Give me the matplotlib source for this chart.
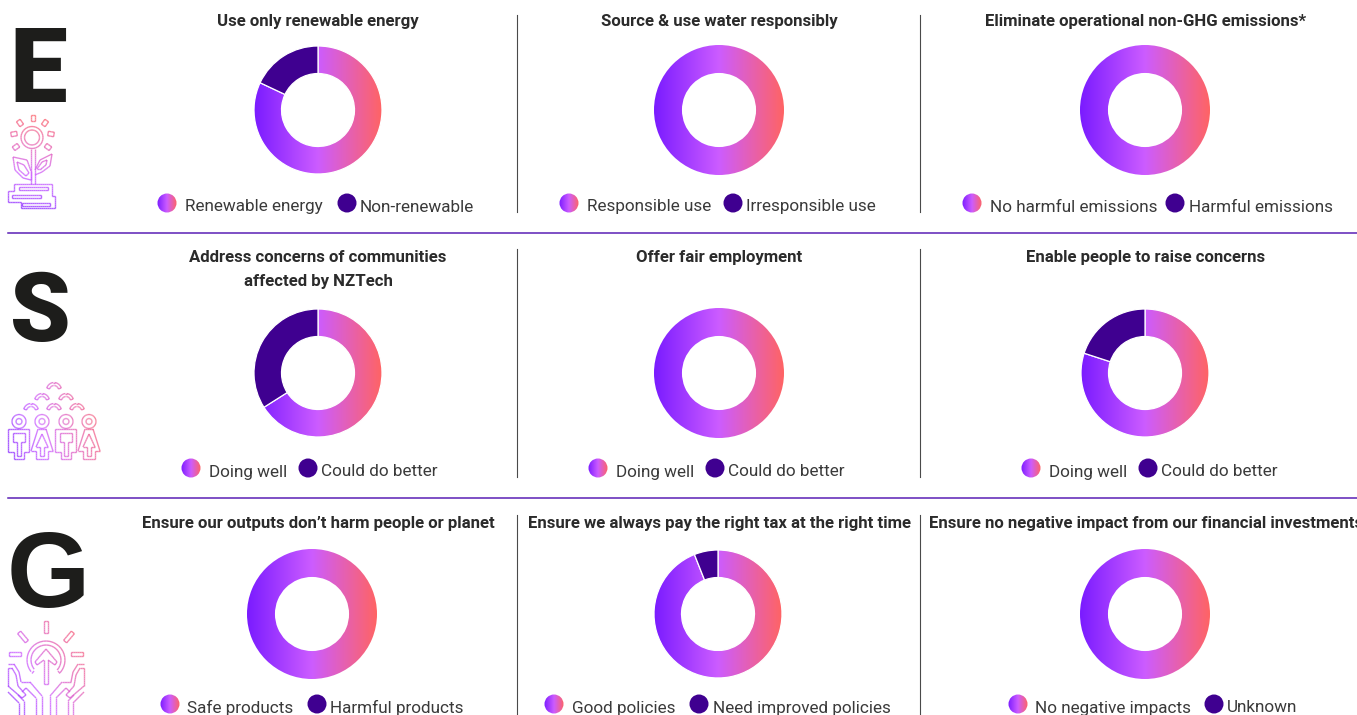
#!/usr/bin/env python3
"""ESG donut grid: three rows of three gradient donuts with icons."""
import numpy as np
import matplotlib; matplotlib.use('Agg')
import matplotlib.pyplot as plt
from matplotlib.colors import LinearSegmentedColormap
from matplotlib.collections import LineCollection
from matplotlib.patches import Circle

W, H = 1357, 715
DARK = '#3f0090'
INK = '#2b2b2b'
GRAD = LinearSegmentedColormap.from_list('esg', ['#7a1bff', '#cc5cff', '#ff6464'])

row_letters = ['E', 'S', 'G']
titles = [
    ['Use only renewable energy', 'Source & use water responsibly', 'Eliminate operational non-GHG emissions*'],
    ['Address concerns of communities\naffected by NZTech', 'Offer fair employment', 'Enable people to raise concerns'],
    ["Ensure our outputs don’t harm people or planet", 'Ensure we always pay the right tax at the right time',
     'Ensure no negative impact from our financial investments'],
]
good_labels = [
    ['Renewable energy', 'Responsible use', 'No harmful emissions'],
    ['Doing well', 'Doing well', 'Doing well'],
    ['Safe products', 'Good policies', 'No negative impacts'],
]
bad_labels = [
    ['Non-renewable', 'Irresponsible use', 'Harmful emissions'],
    ['Could do better', 'Could do better', 'Could do better'],
    ['Harmful products', 'Need improved policies', 'Unknown'],
]
good_share = [[82, 100, 100], [66, 100, 80], [100, 94, 100]]
bad_share = [[18, 0, 0], [34, 0, 20], [0, 6, 0]]

# layout, in pixels of the 1357x715 picture
centers = [[(318, 110), (719, 110), (1145, 110)],
           [(318, 373), (719, 373), (1145, 373)],
           [(312, 614), (718, 614), (1145, 614)]]
radii = [[64, 65, 65], [64, 65, 64], [65, 64, 65]]
title_x = [318, 719, 1146]
title_y = [26, 262, 528]
legend_y = [203, 468, 704]
legend_x = [[(167, 185, 347, 360), (569, 587, 733, 746), (972, 990, 1175, 1189)],
            [(191, 209, 308, 321), (598, 616, 715, 728), (1031, 1049, 1148, 1161)],
            [(170, 187, 317, 330), (554, 572, 699, 713), (1018, 1035, 1214, 1227)]]
letter_y = [102, 341, 607]
letter_x = [9, 10, 7]
letter_size = [74, 70, 77]
letter_font = ['Roboto', 'Roboto', 'Liberation Sans']

plt.rcParams['font.family'] = ['Roboto', 'DejaVu Sans']
fig = plt.figure(figsize=(W/100, H/100), dpi=100)
bg = fig.add_axes([0, 0, 1, 1])
bg.set_xlim(0, W); bg.set_ylim(H, 0); bg.axis('off')
bg.set_aspect('auto')
ramp = np.linspace(0, 1, 256).reshape(1, -1)


def donut(cx, cy, r, good, bad):
    ax = fig.add_axes([(cx-r)/W, 1-(cy+r)/H, 2*r/W, 2*r/H])
    wedges, _ = ax.pie([good, bad], startangle=90, counterclock=False, radius=1,
                       colors=['none', DARK],
                       wedgeprops=dict(width=0.43, edgecolor='white' if bad else 'none', linewidth=0.9))
    im = ax.imshow(ramp, cmap=GRAD, extent=(-1, 1, -1, 1), aspect='auto', zorder=0)
    im.set_clip_path(wedges[0])
    ax.set_xlim(-1, 1); ax.set_ylim(-1, 1)
    ax.axis('off')


def legend_dot(x, y):
    im = bg.imshow(ramp, cmap=GRAD, extent=(x-10, x+10, y+10, y-10), aspect='auto', zorder=2)
    c = Circle((x, y), 9.5, transform=bg.transData, fc='none', ec='none')
    bg.add_patch(c)
    im.set_clip_path(c)


def icon(lines, x0, x1, y0, y1, lean=0.5):
    # stroke colour follows the same ramp, running towards the top right
    segs, cols = [], []
    for ln in lines:
        ln = np.asarray(ln, float)
        for a, b in zip(ln[:-1], ln[1:]):
            n = max(int(np.hypot(*(b-a))/2), 1)
            for i in range(n):
                p = a+(b-a)*i/n; q = a+(b-a)*(i+1)/n
                m = (p+q)/2
                t = (1-lean)*(m[0]-x0)/(x1-x0)+lean*(y1-m[1])/(y1-y0)
                segs.append([p, q]); cols.append(GRAD(np.clip(t, 0, 1)**0.7))
    bg.add_collection(LineCollection(segs, colors=cols, linewidths=1.0, alpha=0.75, zorder=3))


def ring(cx, cy, r, a0=0, a1=360):
    a = np.radians(np.arange(a0, a1+1, 10))
    return np.c_[cx+r*np.cos(a), cy-r*np.sin(a)]


def rect(cx, cy, w, h, ang=0):
    p = np.array([[-w/2, -h/2], [w/2, -h/2], [w/2, h/2], [-w/2, h/2], [-w/2, -h/2]])
    a = np.radians(ang)
    rot = np.array([[np.cos(a), -np.sin(a)], [np.sin(a), np.cos(a)]])
    return p@rot.T+[cx, cy]


def flower_icon():
    L = [ring(32, 137.5, 11), ring(32, 137.5, 7.5)]
    for cx, cy, ang in [(33, 118, 0), (20, 123, -35), (45, 123, 35), (14, 134, 80), (51, 134, -80),
                        (16, 147, 55), (48, 147, -55)]:
        L.append(rect(cx, cy, 4.5, 6, ang))
    L += [[(31, 149), (31, 184)], [(35, 149), (35, 184)]]
    L += [[(31, 171), (27, 160), (13, 157), (15, 170), (23, 178), (31, 180), (31, 171)],
          [(29, 173), (24, 165), (17, 162), (19, 170), (26, 176), (29, 173)],
          [(35, 170), (40, 160), (52, 154), (50, 166), (42, 172), (35, 175)],
          [(37, 169), (42, 162), (47, 160), (46, 165), (41, 169), (37, 169)]]
    L += [[(14, 184), (52, 184), (52, 196), (55, 196), (55, 208), (21, 208), (21, 202), (8, 202),
           (8, 191), (14, 191), (14, 184)],
          rect(33, 188.5, 29, 3), rect(26, 196.5, 29, 3), rect(36, 204, 28, 3)]
    icon(L, 8, 55, 115, 208, lean=0.92)


def people_icon():
    L = []
    for cx, cy in [(54, 387), (42, 398), (66, 398), (31, 408), (54, 408), (77, 408)]:
        L += [ring(cx, cy+3, 7.5, 15, 165), ring(cx, cy+3, 4.5, 15, 165),
              [(cx-7.2, cy+1), (cx-4.3, cy+2)], [(cx+7.2, cy+1), (cx+4.3, cy+2)]]
    for i, cx in enumerate([19, 42, 66, 89]):
        L += [ring(cx, 421.5, 7), ring(cx, 421.5, 3)]
        if i % 2 == 0:
            L += [[(cx-11, 429), (cx+10, 429), (cx+10, 452), (cx+5, 452), (cx+5, 459), (cx-5, 459),
                   (cx-5, 452), (cx-11, 452), (cx-11, 429)],
                  [(cx-6, 433), (cx+6, 433), (cx+6, 442), (cx+2, 442), (cx+2, 456), (cx-2, 456),
                   (cx-2, 442), (cx-6, 442), (cx-6, 433)]]
        else:
            L += [[(cx-4, 429), (cx+4, 429), (cx+11, 451), (cx+6, 451), (cx+6, 459), (cx-6, 459),
                   (cx-6, 451), (cx-11, 451), (cx-4, 429)],
                  [(cx, 434), (cx+6, 447), (cx+2, 447), (cx+2, 456), (cx-2, 456), (cx-2, 447),
                   (cx-6, 447), (cx, 434)]]
    icon(L, 8, 100, 382, 460, lean=0.2)


def hands_icon():
    L = [rect(46, 627, 4, 12), rect(23, 637, 4, 12, -40), rect(69, 637, 4, 12, 40),
         rect(15, 654, 12, 4), rect(77, 654, 12, 4),
         ring(46, 660, 19, -42, 222), ring(46, 660, 15, -42, 222),
         [(32, 673.5), (34, 671)], [(60, 673.5), (58, 671)],
         [(44, 684), (44, 660), (37, 665), (35, 662), (46, 649), (57, 662), (55, 665),
          (48, 660), (48, 684), (44, 684)]]
    left = [[(8, 664), (14, 664), (19, 672), (21, 682), (30, 682), (42, 696), (42, 715)],
            [(36, 715), (36, 698), (26, 688), (22, 692)],
            [(8, 668), (12, 668), (16, 675), (18, 686), (26, 695), (22, 698), (8, 686), (8, 668)],
            [(19, 715), (19, 703), (8, 692)], [(24, 715), (24, 701), (18, 695)]]
    L += left
    L += [[(92-x, y) for x, y in ln] for ln in left]
    icon(L, 8, 84, 620, 715, lean=0.45)


for i in range(3):
    bg.text(letter_x[i], letter_y[i], row_letters[i], fontsize=letter_size[i], fontweight='black' if i < 2 else 'bold',
            color='#1d1d1b', ha='left', va='baseline', family=[letter_font[i], 'DejaVu Sans'])
    for j in range(3):
        cx, cy = centers[i][j]
        donut(cx, cy, radii[i][j], good_share[i][j], bad_share[i][j])
        for k, line in enumerate(titles[i][j].split('\n')):
            bg.text(title_x[j], title_y[i]+24*k, line, fontsize=12.1, fontweight='bold', color=INK,
                    ha='center', va='baseline', clip_on=False)
        gx, gt, bx, bt = legend_x[i][j]
        ly = legend_y[i]
        legend_dot(gx, ly)
        bg.add_patch(Circle((bx, ly), 9.5, fc=DARK, ec='none', zorder=2))
        bg.text(gt, ly+8.5, good_labels[i][j], fontsize=12.3, color='#3a3a3a', va='baseline')
        bg.text(bt, ly+8.5, bad_labels[i][j], fontsize=12.3, color='#3a3a3a', va='baseline')

for y in [233, 498]:
    bg.plot([8, W], [y, y], color='#5a1fb5', lw=1.1, zorder=1)
for x in [517, 920]:
    for y0, y1 in [(15, 212), (249, 477), (515, 715)]:
        bg.plot([x, x], [y0, y1], color='#4a4a4a', lw=0.8, zorder=1)

flower_icon(); people_icon(); hands_icon()
bg.set_xlim(0, W); bg.set_ylim(H, 0)
fig.savefig('out.png', dpi=100)
